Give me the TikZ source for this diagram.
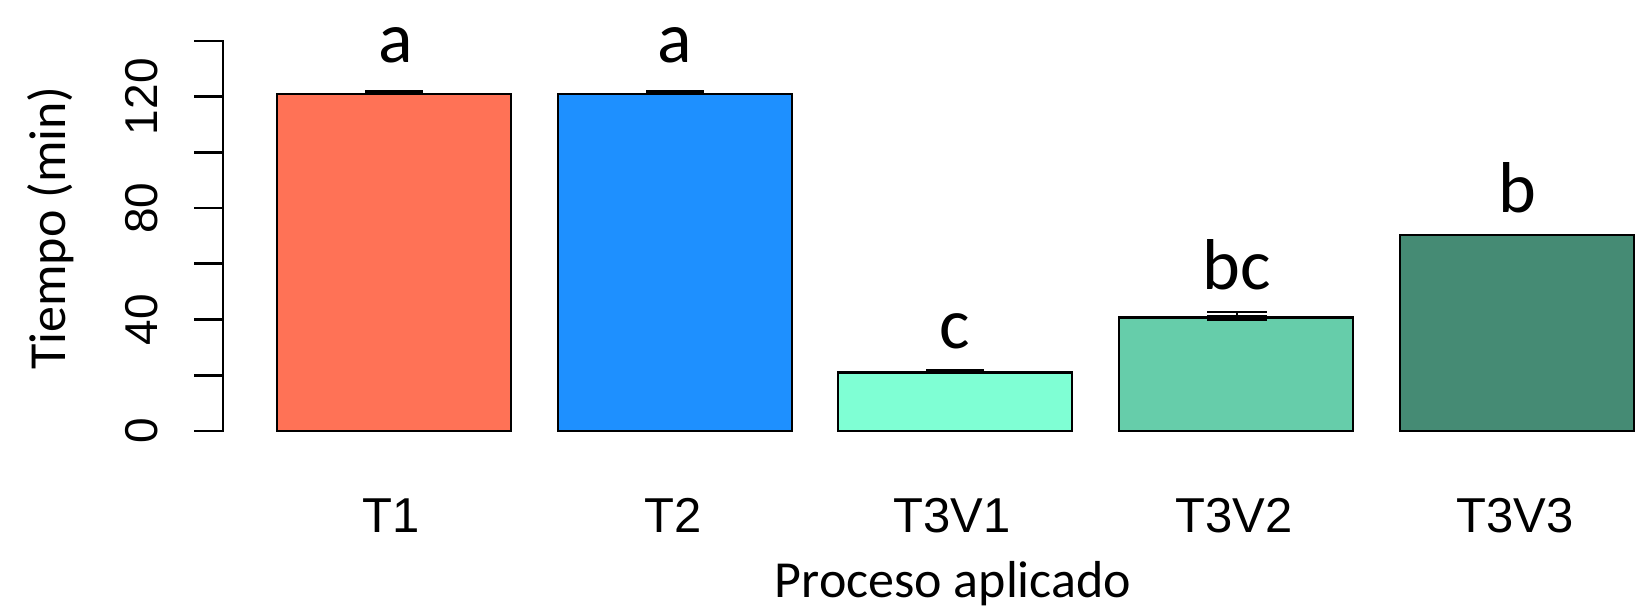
\documentclass[tikz,border=0pt]{standalone}
\usepackage{fontspec}
\setmainfont{Carlito}
\newfontfamily\rplotfont{Liberation Sans}
\definecolor{colTone}{HTML}{FF7256}
\definecolor{colTtwo}{HTML}{1E90FF}
\definecolor{colVone}{HTML}{7FFFD4}
\definecolor{colVtwo}{HTML}{66CDAA}
\definecolor{colVthree}{HTML}{458B74}
\tikzset{
  bar/.style={draw=black, line width=1.3pt},
  axisline/.style={line width=1.4pt},
  errcap/.style={line width=2.6pt},
  errline/.style={line width=1.1pt},
  ticklabel/.style={font=\fontsize{23}{23}\rplotfont, rotate=90, anchor=base, inner sep=0pt},
  catlabel/.style={font=\fontsize{24.5}{24.5}\rplotfont, anchor=base, inner sep=0pt},
  siglabel/.style={font=\fontsize{36}{36}\selectfont, anchor=base, inner sep=0pt},
  axistitle/.style={font=\fontsize{26}{26}\selectfont, anchor=base, inner sep=0pt}
}
\begin{document}
\begin{tikzpicture}[x=0.5pt, y=-0.5pt]
\useasboundingbox (0,0) rectangle (1645,608);

% y axis
\draw[axisline] (194,41) -- (223,41) -- (223,431) -- (194,431);
\foreach \ty in {96.7,152.4,208.1,263.8,319.6,375.3}
  \draw[axisline] (194,\ty) -- (223,\ty);
\node[ticklabel] (tick0)   at (157,431)  {0};
\node[ticklabel] (tick40)  at (157,319.6) {40};
\node[ticklabel] (tick80)  at (157,208.1) {80};
\node[ticklabel] (tick120) at (157,96.7) {120};
\node[axistitle, rotate=90] (ytitle) at (65,228) {Tiempo (min)};

% bars
\draw[bar, fill=colTone]   (277,431) rectangle (511,94.1);
\draw[bar, fill=colTtwo]   (558,431) rectangle (792,94.1);
\draw[bar, fill=colVone]   (838,431) rectangle (1072,372.5);
\draw[bar, fill=colVtwo]   (1119,431) rectangle (1353,317.6);
\draw[bar, fill=colVthree] (1400,431) rectangle (1634,235.1);

% error bars
\draw[errcap] (365,92.5) -- (423,92.5);
\draw[errcap] (646,92.5) -- (704,92.5);
\draw[errcap] (926,371.5) -- (984,371.5);
\draw[errline] (1207,312) -- (1267,312);
\draw[errline] (1237,312) -- (1237,318);
\draw[errcap] (1207,318) -- (1267,318);

% letters
\node[siglabel] (sigT1)   at (396,63)   {a};
\node[siglabel] (sigT2)   at (675,63)   {a};
\node[siglabel] (sigV1)   at (955,349)  {c};
\node[siglabel] (sigV2)   at (1237,290) {bc};
\node[siglabel] (sigV3)   at (1517,213) {b};

% categories
\node[catlabel] (catT1) at (391,533)  {T1};
\node[catlabel] (catT2) at (673,533)  {T2};
\node[catlabel] (catV1) at (952,533)  {T3V1};
\node[catlabel] (catV2) at (1234,533) {T3V2};
\node[catlabel] (catV3) at (1515,533) {T3V3};
\node[axistitle] (xtitle) at (953,598) {Proceso aplicado};

\end{tikzpicture}
\end{document}
